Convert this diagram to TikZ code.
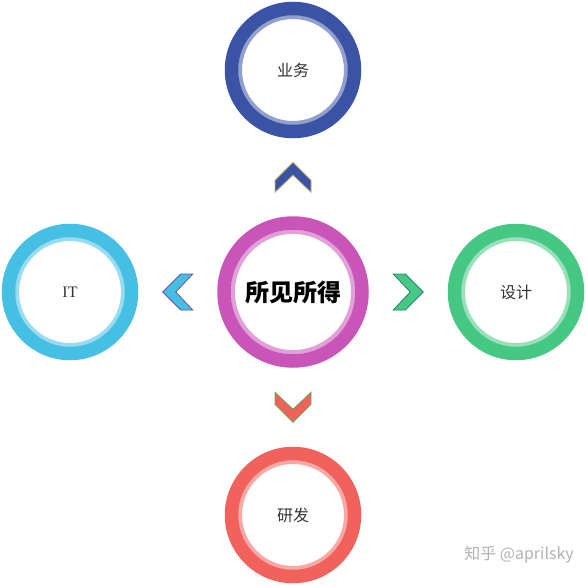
\documentclass[tikz,border=0pt]{standalone}
\usepackage{fontspec}
\setmainfont{Liberation Serif}
\newfontfamily\cjk{Noto Sans CJK SC}
\usetikzlibrary{positioning}
\definecolor{opsblue}{HTML}{3A53A5}
\definecolor{hubpink}{HTML}{C955B9}
\definecolor{itcyan}{HTML}{45BFE3}
\definecolor{designgreen}{HTML}{44C883}
\definecolor{rdred}{HTML}{F0625B}
\definecolor{chevsand}{HTML}{C9B46E}
\definecolor{chevgreen}{HTML}{6AA84F}
\definecolor{chevpurple}{HTML}{6A4EA0}
\definecolor{chevteal}{HTML}{2A7F7A}
\tikzstyle{ring} = [circle, draw=#1, line width=13.5pt, minimum size=123pt, inner sep=0pt, font=\cjk\fontsize{16}{16}\selectfont, text=black!80, path picture={\draw [#1!55!white, line width=4pt] (path picture bounding box.center) circle (53pt);}]
\tikzstyle{hub} = [circle, draw=#1, line width=13.5pt, minimum size=138pt, inner sep=0pt, font=\cjk\bfseries\fontsize{24}{24}\selectfont, text=black, path picture={\draw [#1!55!white, line width=4.3pt] (path picture bounding box.center) circle (60.2pt);}]
\tikzstyle{chev} = [line width=0.8pt, line join=miter]
\newcommand*{\chevron}[4]{\filldraw [chev, fill=#3, draw=#4, shift={(#1)}, rotate=#2] (0,-15) -- (18,3) -- (18,15) -- (0,-2) -- (-18,15) -- (-18,3) -- cycle;}

\begin{document}
\begin{tikzpicture}[x=1pt, y=-1pt, node distance=79pt]
    \useasboundingbox (0,0) rectangle (588,586);
    \node (hub) [hub=hubpink] at (293,292) {所见所得};
    \node (ops) [ring=opsblue, above=78pt of hub] {业务};
    \node (it) [ring=itcyan, font=\fontsize{16}{16}\selectfont, left=of hub] {IT};
    \node (design) [ring=designgreen, right=of hub] {设计};
    \node (rd) [ring=rdred, below=of hub] {研发};
    \node (up tip) [coordinate, above=39pt of hub] {};
    \node (left tip) [coordinate, left=39.5pt of hub] {};
    \node (right tip) [coordinate, right=39.5pt of hub] {};
    \node (down tip) [coordinate, below=39.5pt of hub] {};

    % Chevrons between the rings.
    \chevron{up tip}{0}{opsblue}{chevsand}
    \chevron{left tip}{90}{itcyan}{chevpurple}
    \chevron{right tip}{-90}{designgreen}{chevteal}
    \chevron{down tip}{180}{rdred}{chevgreen}

    \node (mark) [font=\cjk\fontsize{16}{16}\selectfont, text=black!30] at (519,555) {知乎 @aprilsky};
\end{tikzpicture}
\end{document}
